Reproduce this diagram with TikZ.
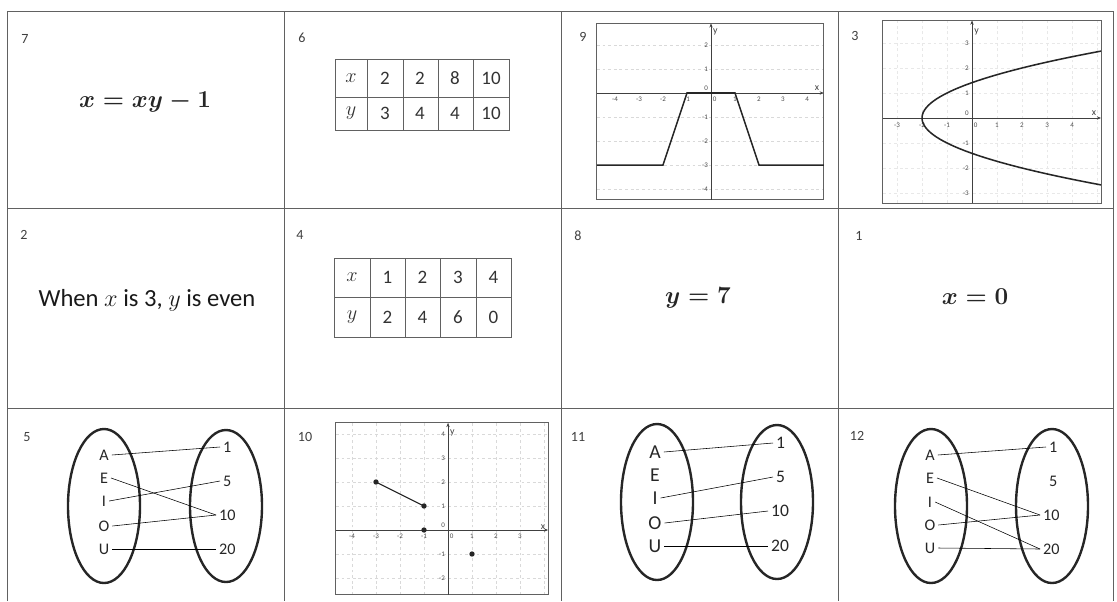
\documentclass[tikz,border=0pt]{standalone}
\usepackage[no-math]{fontspec}
\setmainfont{Carlito}
\usetikzlibrary{arrows.meta,positioning}
\definecolor{rule-gray}{rgb}{.38,.38,.38}

\begin{document}
\begin{tikzpicture}[x=0.025cm, y=-0.025cm, >={Stealth[length=3pt,width=2.4pt]},
   lab/.style={font=\fontsize{10}{12}\selectfont, text=black!75, inner sep=0pt},
   eqn/.style={font=\fontsize{19}{23}\selectfont\boldmath, text=black!85},
   val/.style={font=\fontsize{13.5}{16}\selectfont, text=black!80, inner sep=0pt},
   elem/.style={font=\fontsize{11.5}{14}\selectfont, text=black!85, inner sep=2pt},
   tk/.style={font=\fontsize{5}{6}\selectfont, text=black!70, inner sep=0pt},
   axl/.style={font=\fontsize{7}{8}\selectfont, text=black!75, inner sep=0pt},
   gridln/.style={gray!30, dash pattern=on 2pt off 2pt, very thin},
   frame/.style={draw=rule-gray, line width=0.7pt},
   axis/.style={black!75, line width=0.5pt},
   setring/.style={black!85, line width=1.7pt},
   tab/.style={draw=rule-gray, line width=0.5pt},
   curve/.style={black!85, line width=1.1pt}]
  \useasboundingbox (0,0) rectangle (1117,601);
  % card borders
  \draw[rule-gray, line width=0.6pt] (7,601) -- (7,11) -- (1113,11) -- (1113,601);
  \foreach \cx in {284,561,838} \draw[rule-gray, line width=0.6pt] (\cx,11) -- (\cx,601);
  \foreach \cy in {208,408} \draw[rule-gray, line width=0.6pt] (7,\cy) -- (1113,\cy);

  % card numbers
  \foreach \n/\px/\py in {7/25/39, 6/302/38, 9/583/37, 3/855/36, 2/24/235, 4/300/235,
      8/578/236, 1/859/236, 5/27/437, 10/305/437, 11/578/437, 12/857/436}
    \node[lab] (no\n) at (\px,\py) {\n};

  % row 1
  \node[eqn] (eq7) at (145,102) {$x = xy - 1$};

  \draw[tab] (335,59) rectangle (509,130);
  \draw[tab] (335,97) -- (509,97);
  \foreach \cx in {367,403,438,473} \draw[tab] (\cx,59) -- (\cx,130);
  \node[val] (t6x) at (351,78) {$x$};
  \node[val] (t6y) at (351,113.5) {$y$};
  \foreach \cx/\v [count=\k] in {385/2,420/2,455/8,491/10} \node[val] (t6a\k) at (\cx,78) {\v};
  \foreach \cx/\v [count=\k] in {385/3,420/4,455/4,491/10} \node[val] (t6b\k) at (\cx,113.5) {\v};

  \begin{scope}[shift={(711,93)}, x=0.6cm, y=0.6cm]
    \foreach \gy in {-4,...,2} \draw[gridln] (-4.75,\gy) -- (4.7,\gy);
    \draw[frame] (-4.75,-4.45) rectangle (4.7,2.9);
    \draw[->, axis] (-4.75,0) -- (4.7,0);
    \draw[->, axis] (0,-4.45) -- (0,2.9);
    \foreach \gx in {-4,-3,-2,-1,1,2,3,4} \node[tk] (g9x\gx) at (\gx,-0.27) {\gx};
    \foreach \gy in {-4,-3,-2,-1,1,2} \node[tk, anchor=east] (g9y\gy) at (-0.12,\gy) {\gy};
    \node[tk] (g9x0) at (0.15,-0.27) {0};
    \node[tk, anchor=east] (g9y0) at (-0.12,0.2) {0};
    \node[axl] (g9xl) at (4.42,0.22) {x};
    \node[axl, anchor=west] (g9yl) at (0.08,2.55) {y};
    \draw[curve] (-4.75,-3) -- (-2,-3) -- (-1,0) -- (1,0) -- (2,-3) -- (4.7,-3);
  \end{scope}

  \begin{scope}[shift={(972,118)}, x=0.625cm, y=0.625cm]
    \foreach \gx in {-3,...,5} \draw[gridln, gray!18] (\gx,-3.4) -- (\gx,3.9);
    \foreach \gy in {-3,...,3} \draw[gridln, gray!18] (-3.56,\gy) -- (5.16,\gy);
    \draw[frame] (-3.56,-3.4) rectangle (5.16,3.9);
    \draw[->, axis] (-3.56,0) -- (5.16,0);
    \draw[->, axis] (0,-3.4) -- (0,3.9);
    \foreach \gx in {-3,-2,-1,1,2,3,4} \node[tk] (g3x\gx) at (\gx,-0.27) {\gx};
    \foreach \gy in {-3,-2,-1,1,2,3} \node[tk, anchor=east] (g3y\gy) at (-0.12,\gy) {\gy};
    \node[tk] (g3x0) at (0.15,-0.27) {0};
    \node[tk, anchor=east] (g3y0) at (-0.12,0.2) {0};
    \node[axl] (g3xl) at (4.88,0.18) {x};
    \node[axl, anchor=west] (g3yl) at (0.08,3.44) {y};
    \draw[curve, domain=-2.676:2.676, samples=60, variable=\t] plot ({\t*\t-2},{\t});
  \end{scope}

  % row 2
  \node[font=\fontsize{17.5}{21}\selectfont, text=black!90] (txt2) at (147,300) {When $x$ is 3, $y$ is even};

  \draw[tab] (334,258) rectangle (511,337);
  \draw[tab] (334,297) -- (511,297);
  \foreach \cx in {370,405,440,476} \draw[tab] (\cx,258) -- (\cx,337);
  \node[val] (t4x) at (352,277.5) {$x$};
  \node[val] (t4y) at (352,317) {$y$};
  \foreach \cx/\v [count=\k] in {387.5/1,422.5/2,458/3,493.5/4} \node[val] (t4a\k) at (\cx,277.5) {\v};
  \foreach \cx/\v [count=\k] in {387.5/2,422.5/4,458/6,493.5/0} \node[val] (t4b\k) at (\cx,317) {\v};

  \node[eqn] (eq8) at (698,298) {$y = 7$};
  \node[eqn] (eq1) at (975,297) {$x = 0$};

  % row 3
  \draw[setring] (104,506) ellipse [x radius=36, y radius=77];
  \draw[setring] (226,506) ellipse [x radius=36, y radius=76];
  \foreach \l/\dy in {A/-51,E/-28,I/-5,O/20,U/43} \node[elem] (m5\l) at (104,506+\dy) {\l};
  \foreach \n/\dx/\dy in {1/4/-59,5/4/-25,10/0/9,20/0/43} \node[elem, anchor=west] (m5n\n) at (216+\dx,506+\dy) {\n};
  \draw (m5A.east) -- (m5n1.west);
  \draw (m5E.east) -- (m5n10.west);
  \draw (m5I.east) -- (m5n5.west);
  \draw (m5O.east) -- (m5n10.west);
  \draw (m5U.east) -- (m5n20.west);

  \begin{scope}[shift={(448,530)}, x=0.6cm, y=0.6cm]
    \foreach \gx in {-4,...,4} \draw[gridln] (\gx,-2.7) -- (\gx,4.46);
    \foreach \gy in {-2,...,4} \draw[gridln] (-4.67,\gy) -- (4.17,\gy);
    \draw[frame] (-4.67,-2.7) rectangle (4.17,4.46);
    \draw[->, axis] (-4.67,0) -- (4.17,0);
    \draw[->, axis] (0,-2.7) -- (0,4.46);
    \foreach \gx in {-4,-3,-2,-1,1,2,3} \node[tk] (g10x\gx) at (\gx,-0.27) {\gx};
    \foreach \gy in {-2,-1,1,2,3,4} \node[tk, anchor=east] (g10y\gy) at (-0.12,\gy) {\gy};
    \node[tk] (g10x0) at (0.15,-0.27) {0};
    \node[tk, anchor=east] (g10y0) at (-0.12,0.2) {0};
    \node[axl] (g10xl) at (3.96,0.14) {x};
    \node[axl, anchor=west] (g10yl) at (0.08,4.04) {y};
    \draw[black!85, line width=0.8pt] (-3,2) -- (-1,1);
    \foreach \px/\py in {-3/2,-1/1,-1/0,1/-1} \fill[black!85] (\px,\py) circle (1.9pt);
  \end{scope}

  \draw[setring] (657,502) ellipse [x radius=36, y radius=78];
  \draw[setring] (777,502) ellipse [x radius=36, y radius=77];
  \foreach \l/\dy in {A/-50,E/-27,I/-4,O/21,U/44} \node[elem, font=\fontsize{14}{16}\selectfont] (m11\l) at (655,502+\dy) {\l};
  \foreach \n/\dx/\dy in {1/5/-59,5/5/-25,10/0/9,20/0/44} \node[elem, font=\fontsize{12.5}{15}\selectfont, anchor=west] (m11n\n) at (768+\dx,502+\dy) {\n};
  \draw (m11A.east) -- (m11n1.west);
  \draw (m11I.east) -- (m11n5.west);
  \draw (m11O.east) -- (m11n10.west);
  \draw (m11U.east) -- (m11n20.west);

  \draw[setring] (931,506) ellipse [x radius=36, y radius=77];
  \draw[setring] (1052,506) ellipse [x radius=36, y radius=77];
  \foreach \l/\dy in {A/-51,E/-28,I/-4,O/19,U/42} \node[elem] (m12\l) at (930,506+\dy) {\l};
  \foreach \n/\dx/\dy in {1/6/-59,5/6/-25,10/0/9,20/0/43} \node[elem, anchor=west] (m12n\n) at (1040+\dx,506+\dy) {\n};
  \draw (m12A.east) -- (m12n1.west);
  \draw (m12E.east) -- (m12n10.west);
  \draw (m12I.east) -- (m12n20.west);
  \draw (m12O.east) -- (m12n10.west);
  \draw (m12U.east) -- (m12n20.west);
\end{tikzpicture}
\end{document}
